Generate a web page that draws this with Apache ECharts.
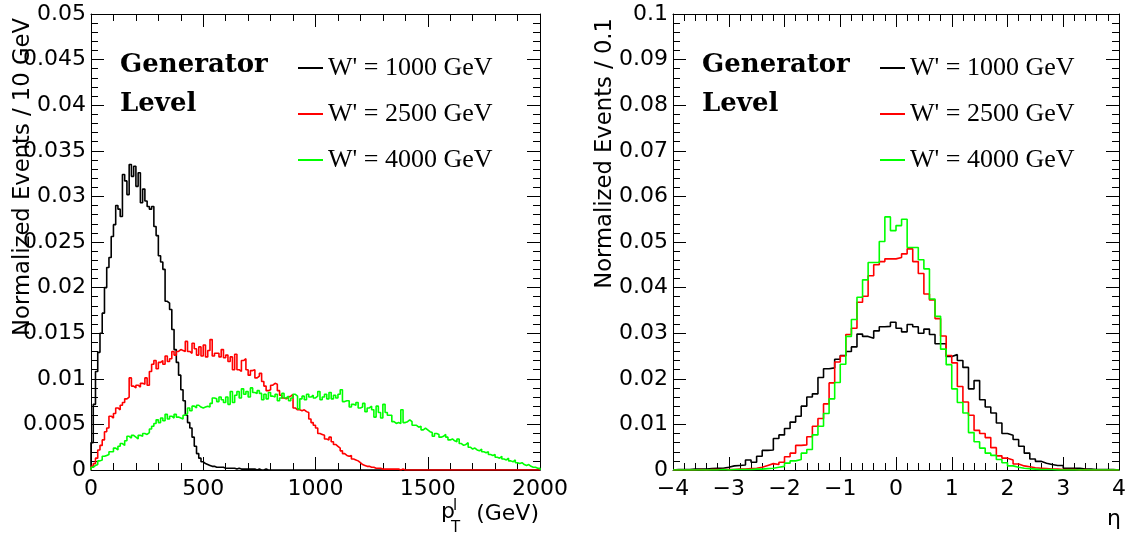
<!DOCTYPE html>
<html>
<head>
<meta charset="utf-8">
<script src="https://cdn.jsdelivr.net/npm/echarts@6/dist/echarts.min.js"></script>
<style>
html, body { margin: 0; padding: 0; background: #ffffff; }
#chart { width: 1129px; height: 536px; }
</style>
</head>
<body>
<div id="chart"></div>
<script>
// Signal samples, one per W' mass hypothesis
const sampleNames = ["W' = 1000 GeV", "W' = 2500 GeV", "W' = 4000 GeV"];
const sampleColors = ['#000000', '#ff0000', '#00ff00'];

// Lepton pT: 200 bins of 10 GeV, 0 - 2000 GeV
const ptLow = 0;
const ptWidth = 10;
const ptW1000 = [
  0.0030,0.0072,0.0108,0.0129,0.0150,0.0172,0.0200,0.0222,0.0233,0.0256,
  0.0269,0.0290,0.0286,0.0278,0.0324,0.0317,0.0302,0.0335,0.0322,0.0333,
  0.0311,0.0326,0.0293,0.0308,0.0295,0.0289,0.0286,0.0289,0.0267,0.0257,
  0.0235,0.0228,0.0220,0.0185,0.0183,0.0176,0.0154,0.0132,0.0118,0.0104,
  0.0088,0.0076,0.0060,0.0052,0.0046,0.0036,0.0026,0.0018,0.0013,0.0009,
  0.0007,0.0006,0.0005,0.0004,0.0004,0.0003,0.0003,0.0003,0.0003,0.0002,
  0.0002,0.0002,0.0002,0.0002,0.0001,0.0002,0.0001,0.0001,0.0001,0.0001,
  0.0001,0.0001,0.0001,0,0.0001,0,0,0.0001,0,0,
  0,0,0,0,0,0,0,0,0,0,
  0,0,0,0,0,0,0,0,0,0,
  0,0,0,0,0,0,0,0,0,0,
  0,0,0,0,0,0,0,0,0,0,
  0,0,0,0,0,0,0,0,0,0,
  0,0,0,0,0,0,0,0,0,0,
  0,0,0,0,0,0,0,0,0,0,
  0,0,0,0,0,0,0,0,0,0,
  0,0,0,0,0,0,0,0,0,0,
  0,0,0,0,0,0,0,0,0,0,
  0,0,0,0,0,0,0,0,0,0,
  0,0,0,0,0,0,0,0,0,0
];
const ptW2500 = [
  0.0004,0.0007,0.0013,0.0022,0.0027,0.0033,0.0042,0.0046,0.0059,0.0057,
  0.0062,0.0068,0.0066,0.0071,0.0074,0.0078,0.0080,0.0101,0.0092,0.0090,
  0.0093,0.0091,0.0095,0.0094,0.0101,0.0093,0.0108,0.0116,0.0120,0.0111,
  0.0118,0.0120,0.0116,0.0125,0.0119,0.0122,0.0130,0.0126,0.0130,0.0132,
  0.0131,0.0130,0.0141,0.0130,0.0128,0.0139,0.0133,0.0126,0.0135,0.0125,
  0.0137,0.0124,0.0131,0.0143,0.0125,0.0128,0.0128,0.0124,0.0132,0.0123,
  0.0126,0.0119,0.0124,0.0110,0.0127,0.0110,0.0108,0.0120,0.0122,0.0110,
  0.0104,0.0109,0.0110,0.0101,0.0103,0.0106,0.0097,0.0092,0.0087,0.0088,
  0.0093,0.0095,0.0094,0.0087,0.0082,0.0079,0.0078,0.0080,0.0081,0.0083,
  0.0068,0.0066,0.0066,0.0065,0.0066,0.0064,0.0063,0.0056,0.0052,0.0049,
  0.0046,0.0040,0.0039,0.0038,0.0034,0.0033,0.0036,0.0031,0.0028,0.0026,
  0.0024,0.0021,0.0018,0.0016,0.0015,0.0016,0.0012,0.0011,0.0010,0.0008,
  0.0006,0.0005,0.0004,0.0004,0.0003,0.0003,0.0002,0.0002,0.0002,0.0001,
  0.0001,0.0001,0.0001,0.0001,0.0001,0.0001,0.0001,0,0.0001,0,
  0,0,0,0,0,0,0,0,0,0,
  0,0,0,0,0,0,0,0,0,0,
  0,0,0,0,0,0,0,0,0,0,
  0,0,0,0,0,0,0,0,0,0,
  0,0,0,0,0,0,0,0,0,0,
  0,0,0,0,0,0,0,0,0,0
];
const ptW4000 = [
  0.0003,0.0005,0.0006,0.0010,0.0011,0.0015,0.0016,0.0017,0.0020,0.0020,
  0.0024,0.0022,0.0026,0.0029,0.0027,0.0032,0.0037,0.0035,0.0038,0.0036,
  0.0034,0.0038,0.0037,0.0040,0.0039,0.0041,0.0045,0.0048,0.0051,0.0055,
  0.0052,0.0057,0.0054,0.0061,0.0056,0.0059,0.0057,0.0061,0.0058,0.0057,
  0.0056,0.0060,0.0062,0.0068,0.0065,0.0070,0.0068,0.0071,0.0069,0.0068,
  0.0069,0.0070,0.0069,0.0073,0.0079,0.0078,0.0075,0.0080,0.0077,0.0074,
  0.0080,0.0072,0.0086,0.0074,0.0082,0.0086,0.0079,0.0089,0.0083,0.0086,
  0.0080,0.0090,0.0085,0.0084,0.0087,0.0084,0.0077,0.0083,0.0078,0.0085,
  0.0081,0.0080,0.0083,0.0076,0.0079,0.0084,0.0079,0.0081,0.0076,0.0079,
  0.0083,0.0081,0.0067,0.0078,0.0081,0.0077,0.0083,0.0080,0.0082,0.0079,
  0.0081,0.0086,0.0077,0.0080,0.0083,0.0078,0.0085,0.0078,0.0082,0.0079,
  0.0083,0.0088,0.0075,0.0076,0.0076,0.0069,0.0072,0.0071,0.0074,0.0068,
  0.0069,0.0073,0.0064,0.0068,0.0070,0.0066,0.0058,0.0070,0.0063,0.0057,
  0.0072,0.0063,0.0060,0.0060,0.0053,0.0051,0.0052,0.0051,0.0066,0.0052,
  0.0053,0.0055,0.0053,0.0049,0.0049,0.0047,0.0048,0.0044,0.0046,0.0044,
  0.0042,0.0041,0.0037,0.0040,0.0039,0.0036,0.0037,0.0039,0.0036,0.0033,
  0.0034,0.0032,0.0031,0.0034,0.0029,0.0027,0.0028,0.0030,0.0025,0.0023,
  0.0024,0.0022,0.0021,0.0023,0.0020,0.0019,0.0020,0.0017,0.0016,0.0017,
  0.0014,0.0013,0.0015,0.0012,0.0011,0.0013,0.0010,0.0009,0.0011,0.0008,
  0.0007,0.0008,0.0006,0.0005,0.0006,0.0004,0.0003,0.0003,0.0002,0.0002
];

// Lepton pseudorapidity: 80 bins of 0.1, -4 to 4
const etaLow = -4;
const etaWidth = 0.1;
const etaW1000 = [
  0.0001,0.0001,0.0001,0.0002,0.0002,0.0002,0.0003,0.0004,0.0004,0.0006,
  0.0009,0.0010,0.0011,0.0022,0.0017,0.0030,0.0043,0.0044,0.0069,0.0077,
  0.0091,0.0105,0.0118,0.0140,0.0160,0.0167,0.0203,0.0222,0.0224,0.0243,
  0.0251,0.0260,0.0270,0.0298,0.0293,0.0289,0.0305,0.0314,0.0315,0.0324,
  0.0311,0.0303,0.0319,0.0314,0.0300,0.0309,0.0297,0.0277,0.0277,0.0249,
  0.0253,0.0240,0.0225,0.0178,0.0196,0.0154,0.0138,0.0125,0.0103,0.0080,
  0.0076,0.0067,0.0052,0.0037,0.0024,0.0019,0.0015,0.0012,0.0010,0.0010,
  0.0004,0.0004,0.0004,0.0002,0.0002,0.0001,0.0001,0.0001,0.0001,0
];
const etaW2500 = [
  0,0,0,0,0.0001,0,0.0001,0.0001,0.0001,0.0001,
  0.0001,0.0002,0.0002,0.0003,0.0004,0.0006,0.0010,0.0014,0.0012,0.0017,
  0.0029,0.0037,0.0054,0.0055,0.0073,0.0096,0.0113,0.0145,0.0191,0.0237,
  0.0250,0.0297,0.0311,0.0368,0.0381,0.0426,0.0450,0.0457,0.0463,0.0463,
  0.0466,0.0474,0.0485,0.0457,0.0431,0.0386,0.0373,0.0332,0.0294,0.0251,
  0.0235,0.0183,0.0149,0.0120,0.0087,0.0080,0.0071,0.0049,0.0031,0.0026,
  0.0022,0.0013,0.0009,0.0007,0.0005,0.0004,0.0003,0.0002,0.0002,0.0001,
  0.0001,0.0001,0,0.0001,0,0,0,0,0,0
];
const etaW4000 = [
  0,0,0,0,0,0,0,0,0.0001,0,
  0.0001,0.0001,0.0001,0.0001,0.0002,0.0002,0.0003,0.0004,0.0006,0.0008,
  0.0015,0.0020,0.0023,0.0037,0.0045,0.0077,0.0096,0.0124,0.0156,0.0192,
  0.0232,0.0293,0.0330,0.0379,0.0417,0.0455,0.0455,0.0501,0.0555,0.0525,
  0.0536,0.0550,0.0488,0.0488,0.0461,0.0441,0.0375,0.0337,0.0265,0.0231,
  0.0178,0.0148,0.0125,0.0082,0.0062,0.0048,0.0037,0.0032,0.0023,0.0016,
  0.0009,0.0006,0.0004,0.0003,0.0002,0.0001,0.0001,0.0001,0,0,
  0,0,0,0,0,0,0,0,0,0
];

// Axis tick labels
const ptTickLabels = ['0', '500', '1000', '1500', '2000'];
const etaTickLabels = ['\u22124', '\u22123', '\u22122', '\u22121', '0', '1', '2', '3', '4'];

// Outline of a histogram as step points: bin lower edges, closed down to zero at both ends
function histOutline(low, width, values) {
  const pts = [[low, 0]];
  values.forEach(function (v, i) { pts.push([low + i * width, v]); });
  const high = low + values.length * width;
  pts.push([high, values[values.length - 1]]);
  pts.push([high, 0]);
  return pts;
}

const BLACK = '#000000';
const labelFont = { fontFamily: 'DejaVu Sans', fontSize: 22, color: BLACK };

function makeAxis(dim, gridIndex, position, min, max, interval, labels) {
  const axis = {
    type: 'value',
    gridIndex: gridIndex,
    position: position,
    min: min,
    max: max,
    interval: interval,
    axisLine: { show: true, onZero: false, lineStyle: { color: BLACK, width: 1 } },
    axisTick: { show: true, inside: true, length: 13, lineStyle: { color: BLACK, width: 1 } },
    minorTick: { show: true, splitNumber: 5, length: 7, lineStyle: { color: BLACK, width: 1 } },
    splitLine: { show: false },
    minorSplitLine: { show: false },
    axisLabel: { show: false }
  };
  if (labels) {
    axis.axisLabel = Object.assign({
      show: true,
      margin: dim === 'x' ? 8 : 5,
      showMinLabel: true,
      showMaxLabel: true,
      formatter: function (v) {
        const idx = Math.round((v - min) / interval);
        return labels[idx] !== undefined ? labels[idx] : '';
      }
    }, labelFont);
  }
  return axis;
}

// y-axis tick labels come from the scale, printed as plain decimals
function yAxisWithLabels(gridIndex, max, interval) {
  const ax = makeAxis('y', gridIndex, 'left', 0, max, interval, null);
  ax.axisLabel = Object.assign({
    show: true,
    margin: 5,
    showMinLabel: true,
    showMaxLabel: true,
    formatter: function (v) { return String(parseFloat(v.toFixed(4))); }
  }, labelFont);
  return ax;
}

const xAxes = [
  makeAxis('x', 0, 'bottom', 0, 2000, 500, ptTickLabels),
  makeAxis('x', 0, 'top', 0, 2000, 500, null),
  makeAxis('x', 1, 'bottom', -4, 4, 1, etaTickLabels),
  makeAxis('x', 1, 'top', -4, 4, 1, null)
];
const yAxes = [
  yAxisWithLabels(0, 0.05, 0.005),
  makeAxis('y', 0, 'right', 0, 0.05, 0.005, null),
  yAxisWithLabels(1, 0.1, 0.01),
  makeAxis('y', 1, 'right', 0, 0.1, 0.01, null)
];

const ptSets = [ptW1000, ptW2500, ptW4000];
const etaSets = [etaW1000, etaW2500, etaW4000];

function histSeries(name, color, data, axisIndex) {
  return {
    type: 'line',
    name: name,
    xAxisIndex: axisIndex,
    yAxisIndex: axisIndex,
    data: data,
    step: 'end',
    showSymbol: false,
    symbol: 'none',
    color: color,
    lineStyle: { color: color, width: 1.6 },
    emphasis: { disabled: true },
    silent: true,
    animation: false
  };
}

const series = [];
sampleNames.forEach(function (name, i) {
  series.push(histSeries(name, sampleColors[i], histOutline(ptLow, ptWidth, ptSets[i]), 0));
});
sampleNames.forEach(function (name, i) {
  series.push(histSeries(name, sampleColors[i], histOutline(etaLow, etaWidth, etaSets[i]), 2));
});

function legendAt(left) {
  return {
    data: sampleNames,
    left: left,
    top: 53,
    orient: 'vertical',
    icon: 'rect',
    itemWidth: 25,
    itemHeight: 2,
    itemGap: 16,
    selectedMode: false,
    padding: 0,
    textStyle: { fontFamily: 'Liberation Serif', fontSize: 26, color: BLACK, lineHeight: 30 }
  };
}

function txt(x, y, text, font, align, vAlign, rotation) {
  return {
    type: 'text',
    x: x,
    y: y,
    rotation: rotation || 0,
    silent: true,
    style: {
      text: text,
      font: font,
      fill: BLACK,
      textAlign: align,
      textVerticalAlign: vAlign,
      align: align,
      verticalAlign: vAlign
    }
  };
}

const sansFont = '22px "DejaVu Sans"';
const titleFont = '22.7px "DejaVu Sans"';
const smallSans = '15px "DejaVu Sans"';
const boldSerif = 'bold 26px "DejaVu Serif"';

const graphic = [
  // panel captions
  txt(120, 65, 'Generator', boldSerif, 'left', 'middle'),
  txt(120, 104, 'Level', boldSerif, 'left', 'middle'),
  txt(702, 65, 'Generator', boldSerif, 'left', 'middle'),
  txt(702, 104, 'Level', boldSerif, 'left', 'middle'),
  // y-axis titles, right-aligned at the top of each axis
  txt(23, 18, 'Normalized Events / 10 GeV', titleFont, 'right', 'middle', Math.PI / 2),
  txt(605, 18, 'Normalized Events / 0.1', titleFont, 'right', 'middle', Math.PI / 2),
  // x-axis titles
  txt(441, 512, 'p', sansFont, 'left', 'middle'),
  txt(453, 506, 'l', smallSans, 'left', 'middle'),
  txt(451, 528, 'T', smallSans, 'left', 'middle'),
  txt(539, 514, '(GeV)', sansFont, 'right', 'middle'),
  txt(1121, 519, '\u03b7', sansFont, 'right', 'middle')
];

const chart = echarts.init(document.getElementById('chart'), null, { renderer: 'canvas' });
chart.setOption({
  backgroundColor: '#ffffff',
  animation: false,
  grid: [
    { left: 91, top: 14, width: 449, height: 456, containLabel: false },
    { left: 673, top: 14, width: 448, height: 456, containLabel: false }
  ],
  xAxis: xAxes,
  yAxis: yAxes,
  legend: [legendAt(298), legendAt(880)],
  series: series,
  graphic: graphic
});
</script>
</body>
</html>
